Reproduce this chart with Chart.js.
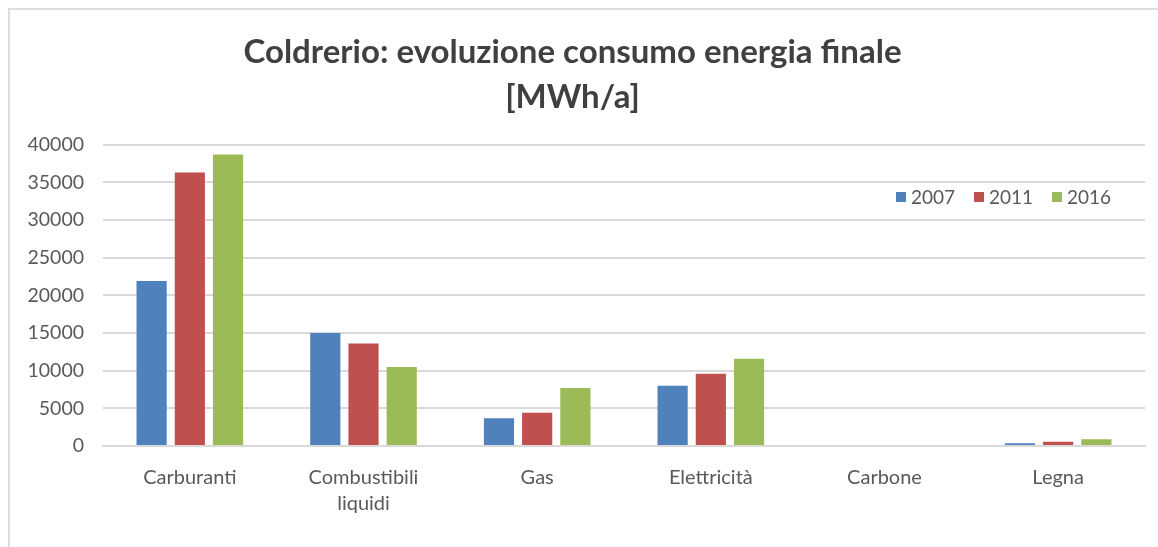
<!DOCTYPE html>
<html>
<head>
<meta charset="utf-8">
<script src="https://cdn.jsdelivr.net/npm/chart.js@4"></script>
<style>
  html, body { margin: 0; padding: 0; background: #fff; }
  #wrap { position: relative; width: 1158px; height: 547px; overflow: hidden; }
  #frame { position: absolute; left: 8px; top: 8px; width: 1200px; height: 600px;
           border-left: 2px solid #dcdcdc; border-top: 2px solid #dcdcdc; }
  canvas { position: absolute; left: 0; top: 0; }
  #legend { position: absolute; top: 185px; left: 896px; font-family: Lato, "Open Sans", sans-serif;
            font-size: 19px; color: #595959; display: flex; }
  #legend .item { display: flex; align-items: center; width: 78px; }
  #legend .sw { width: 10px; height: 10px; margin-right: 5px; }
</style>
</head>
<body>
<div id="wrap">
  <div id="frame"></div>
  <canvas id="c" width="1158" height="547"></canvas>
  <div id="legend"></div>
</div>
<script>
const categories = ["Carburanti", ["Combustibili", "liquidi"], "Gas", "Elettricità", "Carbone", "Legna"];
const seriesNames = ["2007", "2011", "2016"];
const values2007 = [21900, 15000, 3700, 8000, 0, 380];
const values2011 = [36300, 13600, 4400, 9600, 0, 550];
const values2016 = [38700, 10500, 7700, 11600, 0, 880];
const colors = ["#4f81bd", "#c0504d", "#9bbb59"];
const yTicks = [0, 5000, 10000, 15000, 20000, 25000, 30000, 35000, 40000];
const titleLines = ["Coldrerio: evoluzione consumo energia finale", "[MWh/a]"];

const seriesValues = [values2007, values2011, values2016];
const FONT = "Lato, 'Open Sans', sans-serif";

const legendEl = document.getElementById('legend');
seriesNames.forEach((n, i) => {
  const it = document.createElement('div'); it.className = 'item';
  const sw = document.createElement('div'); sw.className = 'sw'; sw.style.background = colors[i];
  const t = document.createElement('span'); t.textContent = n;
  it.appendChild(sw); it.appendChild(t); legendEl.appendChild(it);
});

new Chart(document.getElementById('c'), {
  type: 'bar',
  data: {
    labels: categories,
    datasets: seriesNames.map((n, i) => ({
      label: n,
      data: seriesValues[i],
      backgroundColor: colors[i],
      borderWidth: 0,
      barPercentage: 0.79,
      categoryPercentage: 0.66
    }))
  },
  options: {
    responsive: false,
    animation: false,
    layout: { padding: { left: 0, right: 13, top: 30, bottom: 0 } },
    plugins: {
      legend: { display: false },
      tooltip: { enabled: false },
      title: {
        display: true,
        text: titleLines,
        color: '#404040',
        font: { family: FONT, size: 33, weight: 'bold', lineHeight: 1.36 },
        padding: { top: 0, bottom: 25 }
      }
    },
    scales: {
      x: {
        grid: { display: false },
        border: { display: true, color: '#d9d9d9', width: 2 },
        ticks: { color: '#595959', font: { family: FONT, size: 20, lineHeight: 1.3 }, padding: 11, maxRotation: 0, autoSkip: false },
        afterFit: s => { s.height = 101; }
      },
      y: {
        min: 0, max: 40000,
        afterBuildTicks: s => { s.ticks = yTicks.map(v => ({ value: v })); },
        grid: { color: '#d9d9d9', lineWidth: 2, drawTicks: false },
        border: { display: false },
        ticks: { color: '#595959', font: { family: FONT, size: 19.5 }, padding: 19, callback: v => String(v) },
        afterFit: s => { s.width = 103; }
      }
    }
  }
});
</script>
</body>
</html>
